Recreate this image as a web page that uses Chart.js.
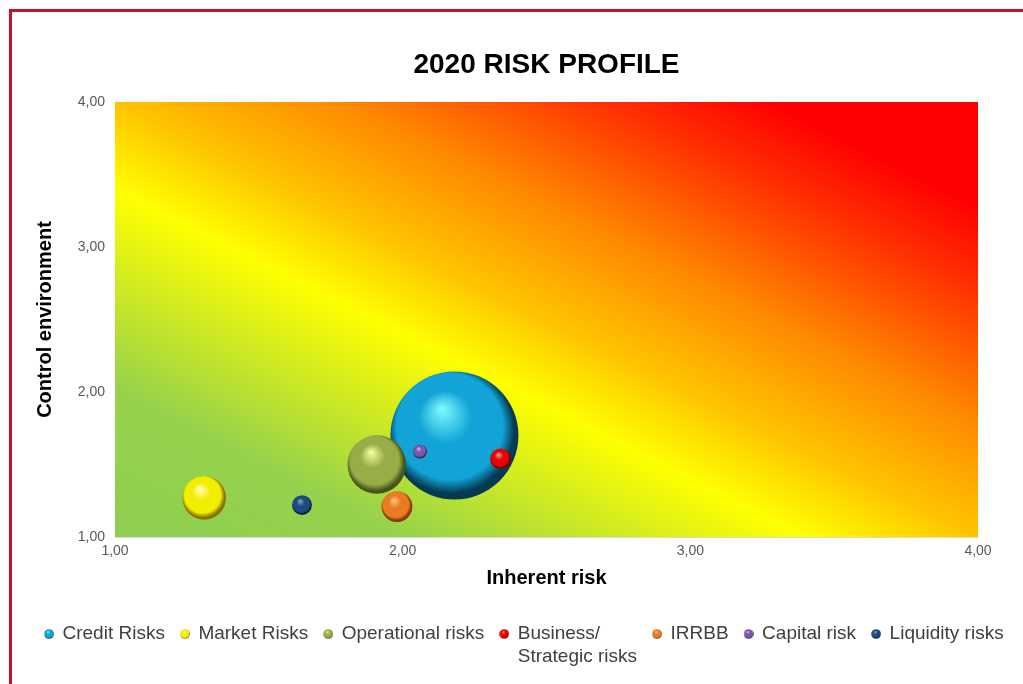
<!DOCTYPE html>
<html><head><meta charset="utf-8">
<script src="https://cdn.jsdelivr.net/npm/chart.js@4.4.1/dist/chart.umd.min.js"></script>
<style>
html,body{margin:0;padding:0;background:#fff;overflow:hidden}
#wrap{position:relative;width:1023px;height:684px;overflow:hidden}
#frame{position:absolute;left:9px;top:9px;width:1100px;height:800px;border-top:3px solid #c8102e;border-left:3px solid #c8102e;pointer-events:none}
canvas{position:absolute;left:0;top:0}
</style></head><body>
<div id="wrap"><canvas id="c" width="1023" height="684"></canvas><div id="frame"></div></div>
<script>
// ---- data ----
const seriesNames = ['Credit Risks', 'Market Risks', 'Operational risks', 'Business/\nStrategic risks', 'IRRBB', 'Capital risk', 'Liquidity risks'];
const inherentRisk = [2.18, 1.31, 1.91, 2.34, 1.98, 2.06, 1.65];
const controlEnvironment = [1.70, 1.27, 1.50, 1.54, 1.21, 1.59, 1.22];
const bubbleSize = [100, 11.6, 20.8, 2.6, 5.8, 1.2, 2.4];
const axisTickValues = [1, 2, 3, 4];
const axisTickLabels = ['1,00', '2,00', '3,00', '4,00'];
const chartTitle = '2020 RISK PROFILE';
const xTitle = 'Inherent risk';
const yTitle = 'Control environment';

// ---- styles ----
const palettes = [
  {hi: '#7af8ff', base: '#12a4d6', dark: '#053a52'},
  {hi: '#ffffb8', base: '#f2ee00', dark: '#857400'},
  {hi: '#f2ffa0', base: '#98ad48', dark: '#46561a'},
  {hi: '#ffa0a0', base: '#ee0000', dark: '#7a0000'},
  {hi: '#ffc880', base: '#e97b22', dark: '#853600'},
  {hi: '#d0b4f4', base: '#7a58a8', dark: '#38205c'},
  {hi: '#7aa6da', base: '#1f4a80', dark: '#091a36'}
];
const MAX_R = 64;
const maxSize = Math.max(...bubbleSize);

function sphereGradient(ctx, x, y, r, pal) {
  const g = ctx.createRadialGradient(x - 0.2 * r, y - 0.42 * r, r * 0.02, x - 0.04 * r, y - 0.06 * r, r * 1.06);
  g.addColorStop(0, pal.hi);
  g.addColorStop(0.38, pal.base);
  g.addColorStop(0.78, pal.base);
  g.addColorStop(0.93, pal.dark);
  g.addColorStop(1, pal.dark);
  return g;
}

function legendIcon(pal) {
  const cv = document.createElement('canvas');
  cv.width = 10; cv.height = 10;
  const c = cv.getContext('2d');
  c.fillStyle = sphereGradient(c, 5, 5, 5, pal);
  c.beginPath(); c.arc(5, 5, 4.8, 0, Math.PI * 2); c.fill();
  return cv;
}
const legendIcons = palettes.map(legendIcon);

const datasets = seriesNames.map((name, i) => ({
  label: name,
  order: seriesNames.length - i,
  data: [{x: inherentRisk[i], y: controlEnvironment[i], r: MAX_R * Math.sqrt(bubbleSize[i] / maxSize)}],
  borderWidth: 0,
  backgroundColor: (c) => {
    const chart = c.chart;
    if (!chart.chartArea || !c.raw) return palettes[i].base;
    const px = chart.scales.x.getPixelForValue(c.raw.x);
    const py = chart.scales.y.getPixelForValue(c.raw.y);
    return sphereGradient(chart.ctx, px, py, c.raw.r, palettes[i]);
  }
}));

const bgPlugin = {
  id: 'riskBackground',
  beforeDraw(chart) {
    const {ctx, chartArea: a} = chart;
    const W = a.right - a.left, H = a.bottom - a.top;
    const n = Math.hypot(W, H);
    const dx = H / n, dy = -W / n;
    const L = (W * dx + H * (-dy)) / 2;
    const cx = (a.left + a.right) / 2, cy = (a.top + a.bottom) / 2;
    const g = ctx.createLinearGradient(cx - dx * L, cy - dy * L, cx + dx * L, cy + dy * L);
    g.addColorStop(0, '#8ecf50');
    g.addColorStop(0.17, '#96d24b');
    g.addColorStop(0.40, '#ffff00');
    g.addColorStop(0.50, '#ffc400');
    g.addColorStop(0.63, '#ff8a00');
    g.addColorStop(0.78, '#ff3300');
    g.addColorStop(0.88, '#ff0000');
    g.addColorStop(1, '#ff0000');
    ctx.save();
    ctx.fillStyle = g;
    ctx.fillRect(a.left, a.top, W, H);
    ctx.restore();
  }
};

const legendShift = {
  id: 'legendShift',
  afterLayout(chart) {
    const lg = chart.legend;
    if (!lg || !lg.lineWidths) return;
    const pad = lg.options.labels.padding;
    const start = (lg.left + pad + lg.right - lg.lineWidths[0]) / 2;
    const d = 45 - start;
    lg.left += d; lg.right += d;
    // room for the second line of the two-line label
    lg.bottom += 26; lg.height += 26;
  }
};

const tickCb = (v) => { const k = axisTickValues.indexOf(v); return k >= 0 ? axisTickLabels[k] : ''; };
const FONT = "'Liberation Sans', Arial, sans-serif";

const canvas = document.getElementById('c');
const c2d = canvas.getContext('2d');
// multi-line legend labels: measure the widest line
const nativeMeasure = c2d.measureText.bind(c2d);
c2d.measureText = (t) => Array.isArray(t)
  ? t.map(s => nativeMeasure(s)).reduce((a, b) => (a.width >= b.width ? a : b))
  : nativeMeasure(t);

new Chart(canvas, {
  type: 'bubble',
  data: {datasets},
  plugins: [bgPlugin, legendShift],
  options: {
    responsive: false,
    animation: false,
    events: [],
    layout: {autoPadding: false, padding: {left: 20, right: 0, top: 0, bottom: 30.5}},
    scales: {
      x: {
        type: 'linear', min: 1, max: 4,
        afterBuildTicks: (s) => { s.ticks = axisTickValues.map(v => ({value: v})); },
        afterFit: (s) => { s.height = 71.5; },
        grid: {display: false, drawTicks: false},
        border: {display: true, color: '#d9d9d9', width: 1},
        ticks: {callback: tickCb, padding: 6, color: '#595959', font: {family: FONT, size: 14}, maxRotation: 0},
        title: {display: true, text: xTitle, color: '#000', font: {family: FONT, size: 20, weight: 'bold'}, padding: {top: 0, bottom: 18.5}}
      },
      y: {
        type: 'linear', min: 1, max: 4,
        afterBuildTicks: (s) => { s.ticks = axisTickValues.map(v => ({value: v})); },
        afterFit: (s) => { s.width = 95; },
        grid: {display: false, drawTicks: false},
        border: {display: false},
        ticks: {callback: tickCb, padding: 10, color: '#595959', font: {family: FONT, size: 14}},
        title: {display: true, text: yTitle, color: '#000', font: {family: FONT, size: 20, weight: 'bold'}, padding: {top: 13, bottom: 0}}
      },
      rightSpace: {
        type: 'linear', position: 'right', display: true,
        afterFit: (s) => { s.width = 45; },
        grid: {display: false, drawTicks: false},
        border: {display: false},
        ticks: {display: false}
      }
    },
    plugins: {
      tooltip: {enabled: false},
      title: {display: true, fullSize: false, text: chartTitle, color: '#000', font: {family: FONT, size: 28, weight: 'bold'}, padding: {top: 48, bottom: 20.4}},
      legend: {
        position: 'bottom',
        labels: {
          usePointStyle: true,
          boxWidth: 8, boxHeight: 8,
          padding: 16,
          color: '#404040',
          font: {family: FONT, size: 19},
          generateLabels: () => seriesNames.map((n, i) => ({
            text: n.includes('\n') ? n.split('\n') : n,
            fillStyle: palettes[i].base,
            strokeStyle: 'rgba(0,0,0,0)',
            lineWidth: 0,
            pointStyle: legendIcons[i],
            fontColor: '#404040',
            hidden: false,
            datasetIndex: i
          }))
        }
      }
    }
  }
});
</script>
</body></html>
